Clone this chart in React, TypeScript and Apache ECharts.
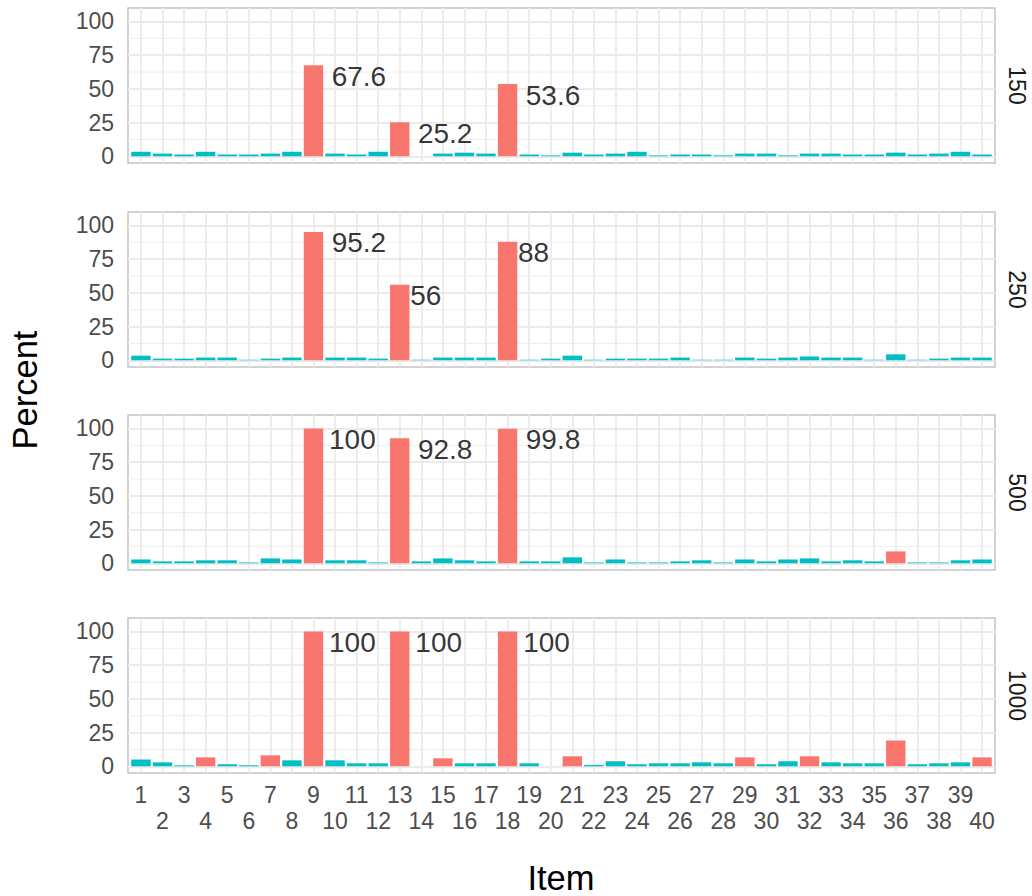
import React, { useEffect, useRef } from "react";
import * as echarts from "echarts";

const items = [1,2,3,4,5,6,7,8,9,10,11,12,13,14,15,16,17,18,19,20,21,22,23,24,25,26,27,28,29,30,31,32,33,34,35,36,37,38,39,40];
const oddItems = [1,3,5,7,9,11,13,15,17,19,21,23,25,27,29,31,33,35,37,39];
const evenItems = [2,4,6,8,10,12,14,16,18,20,22,24,26,28,30,32,34,36,38,40];

const panelNames = ["150", "250", "500", "1000"];

const p150 = [3.33,2.0,1.33,3.33,1.33,1.33,2.0,3.33,67.6,2.0,1.33,3.33,25.2,0,2.0,2.67,2.0,53.6,1.33,0.67,2.67,1.33,2.0,3.33,0.67,1.33,1.33,0.67,2.0,2.0,0.67,2.0,2.0,1.33,1.33,2.67,1.33,2.0,3.33,1.33];
const p250 = [3.4,1.2,1.2,2.0,2.0,0.4,1.2,2.0,95.2,2.0,2.0,1.2,56,0.4,2.0,2.0,2.0,88,0.4,1.2,3.4,0.4,1.2,1.2,1.2,2.0,0.4,0.4,2.0,1.2,2.0,2.8,2.0,2.0,0.4,4.4,0.4,1.2,2.0,2.0];
const p500 = [2.8,1.4,1.4,2.2,2.2,0.6,3.6,2.8,100,2.2,2.2,0.6,92.8,1.4,3.6,2.2,1.4,99.8,1.4,1.4,4.4,0.6,2.8,0.6,0.6,1.4,2.2,0.6,2.8,1.4,2.8,3.6,1.4,2.2,1.4,8.8,0.6,0.6,2.2,2.8];
const p1000 = [5.0,2.9,0.7,6.6,1.5,0.7,8.1,4.4,100,4.4,2.2,2.2,100,0,5.9,2.2,2.2,100,2.2,0,7.4,1.0,3.7,1.5,2.2,2.2,2.9,2.2,6.6,1.5,3.7,7.4,2.9,2.2,2.2,19.1,1.5,2.2,2.9,6.6];

const flagged150 = [9, 13, 18];
const flagged250 = [9, 13, 18];
const flagged500 = [9, 13, 18, 36];
const flagged1000 = [4, 7, 9, 13, 15, 18, 21, 29, 32, 36, 40];

const labelledItems = [9, 13, 18];

const yTicks = [0, 25, 50, 75, 100];
const yMinor = [12.5, 37.5, 62.5, 87.5];

const panelValues = [p150, p250, p500, p1000];
const panelFlags = [flagged150, flagged250, flagged500, flagged1000];

const FONT = "'Liberation Sans', Arial, sans-serif";
const RED = "#F8766D";
const CYAN = "#00BFC4";
const GRID = "#ebebeb";

function measure(text: string, size: number): number {
  const c = document.createElement("canvas").getContext("2d");
  if (!c) return text.length * size * 0.55;
  c.font = `${size}px "Liberation Sans"`;
  return c.measureText(text).width;
}

export default function App() {
  const ref = useRef<HTMLDivElement>(null);
  useEffect(() => {
    if (!ref.current) return;
    const chart = echarts.init(ref.current, null, { renderer: "svg" });
    const tops = [8, 212, 415, 618];
    const height = 155;
    const left = 128;
    const width = 867;

    const grids: any[] = [];
    const xAxes: any[] = [];
    const yAxes: any[] = [];
    const series: any[] = [];
    const graphics: any[] = [];

    const tickLabelStyle = { color: "#4d4d4d", fontSize: 23, fontFamily: FONT, lineHeight: 26 };

    panelValues.forEach((vals, i) => {
      grids.push({
        left, width, top: tops[i], height,
        show: true, borderColor: "#c4c4c4", borderWidth: 1.5, backgroundColor: "transparent",
      });
      xAxes.push({
        type: "value", gridIndex: i, min: 0.4, max: 40.6,
        axisLine: { show: false },
        axisTick: { show: false, customValues: items },
        axisLabel: {
          show: i === 3, customValues: oddItems, margin: 9, hideOverlap: false,
          ...tickLabelStyle,
        },
        splitLine: { show: true, lineStyle: { color: GRID, width: 1.8 } },
      });
      yAxes.push({
        type: "value", gridIndex: i, min: -5, max: 110,
        axisLine: { show: false },
        axisTick: { show: false, customValues: yTicks },
        axisLabel: { customValues: yTicks, color: "#4d4d4d", fontSize: 23, fontFamily: FONT, margin: 14 },
        splitLine: { show: true, lineStyle: { color: GRID, width: 1.8 } },
      });
      series.push({
        type: "custom", xAxisIndex: i, yAxisIndex: i, z: 1, silent: true,
        data: yMinor.map((y) => [y]),
        encode: { y: 0 },
        renderItem: (params: any, api: any) => {
          const y = api.value(0);
          const a = api.coord([0.4, y]);
          const b = api.coord([40.6, y]);
          return {
            type: "line",
            shape: { x1: a[0], y1: a[1], x2: b[0], y2: b[1] },
            style: { stroke: GRID, lineWidth: 0.9 },
          };
        },
      });
      series.push({
        type: "bar", xAxisIndex: i, yAxisIndex: i, barWidth: 19.4, z: 2,
        data: vals.map((v, k) => ({
          value: [items[k], v],
          itemStyle: { color: panelFlags[i].includes(items[k]) ? RED : CYAN },
        })),
      });
      series.push({
        type: "scatter", xAxisIndex: i, yAxisIndex: i, symbolSize: 0, z: 3, silent: true,
        data: labelledItems.map((it) => {
          const v = vals[items.indexOf(it)];
          const t = String(v);
          const w = measure(t, 28);
          return {
            value: [it, v],
            label: {
              show: true, formatter: t, position: "right", distance: 0,
              offset: [w / 3, 11], align: "left", verticalAlign: "middle",
              fontSize: 28, color: "#000", fontFamily: FONT,
              textBorderWidth: 0, textBorderColor: "transparent",
            },
          };
        }),
      });
      graphics.push({
        type: "text", x: 1017, y: tops[i] + height / 2, rotation: -Math.PI / 2,
        style: { text: panelNames[i], fontSize: 23, fontFamily: FONT, fill: "#1a1a1a", align: "center", verticalAlign: "middle" },
      });
    });

    // second label row (even items) for the bottom panel
    xAxes.push({
      type: "value", gridIndex: 3, min: 0.4, max: 40.6, position: "bottom",
      axisLine: { show: false },
      axisTick: { show: false, customValues: evenItems },
      axisLabel: { customValues: evenItems, margin: 35, hideOverlap: false, ...tickLabelStyle },
      splitLine: { show: false },
    });

    graphics.push({
      type: "text", x: 25, y: 390, rotation: Math.PI / 2,
      style: { text: "Percent", fontSize: 34.5, fontFamily: FONT, fill: "#000", align: "center", verticalAlign: "middle" },
    });
    graphics.push({
      type: "text", x: 561, y: 878,
      style: { text: "Item", fontSize: 34.5, fontFamily: FONT, fill: "#000", align: "center", verticalAlign: "middle" },
    });

    chart.setOption({
      animation: false,
      textStyle: { fontFamily: FONT },
      grid: grids,
      xAxis: xAxes,
      yAxis: yAxes,
      series,
      graphic: graphics,
    });
    return () => chart.dispose();
  }, []);
  return <div ref={ref} style={{ position: "fixed", left: 0, top: 0, width: 1032, height: 896, background: "#fff" }} />;
}
